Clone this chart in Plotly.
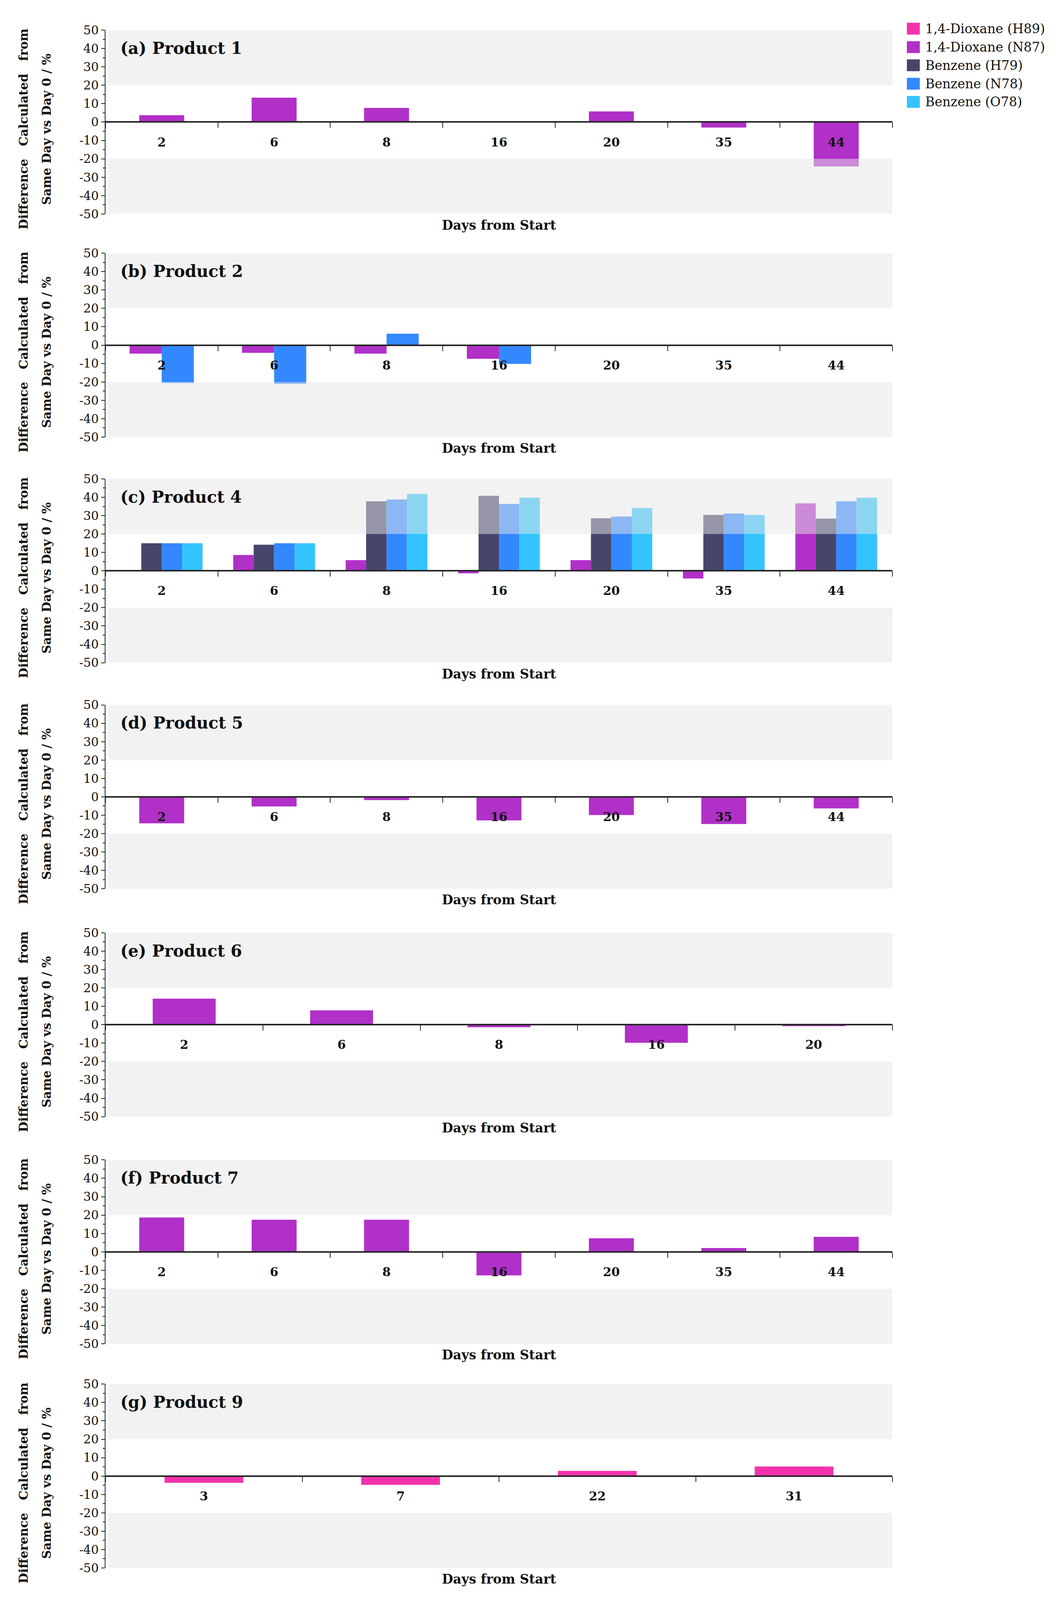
import plotly.graph_objects as go

# ---------------- data ----------------
days_main = ["2", "6", "8", "16", "20", "35", "44"]
days_p6 = ["2", "6", "8", "16", "20"]
days_p9 = ["3", "7", "22", "31"]

series_names = ["1,4-Dioxane (H89)", "1,4-Dioxane (N87)", "Benzene (H79)",
                "Benzene (N78)", "Benzene (O78)"]
series_colors = ["#F433AB", "#B130C8", "#46466B", "#3388FF", "#33C4FF"]

p1_n87 = [3.7, 13.3, 7.7, None, 5.8, -3.0, -24.1]

p2_n87 = [-4.6, -4.2, -4.6, -7.4, None, None, None]
p2_n78 = [-20.6, -21.0, 6.2, -10.2, None, None, None]

p4_n87 = [None, 8.6, 5.8, -1.4, 5.8, -4.2, 36.7]
p4_h79 = [15.0, 14.2, 37.8, 40.8, 28.6, 30.4, 28.4]
p4_n78 = [15.0, 15.0, 38.8, 36.4, 29.5, 31.2, 37.8]
p4_o78 = [15.0, 15.0, 41.8, 39.8, 34.1, 30.4, 39.8]

p5_n87 = [-14.4, -5.2, -1.8, -12.8, -9.9, -14.8, -6.3]

p6_n87 = [14.2, 7.8, -1.4, -9.8, -0.8]

p7_n87 = [18.7, 17.5, 17.5, -12.8, 7.4, 2.1, 8.2]

p9_h89 = [-3.7, -4.8, 2.8, 5.2]

panel_titles = ["(a) Product 1", "(b) Product 2", "(c) Product 4", "(d) Product 5",
                "(e) Product 6", "(f) Product 7", "(g) Product 9"]
panel_days = [days_main, days_main, days_main, days_main, days_p6, days_main, days_p9]
panel_series = [
    [(1, p1_n87)],
    [(1, p2_n87), (3, p2_n78)],
    [(1, p4_n87), (2, p4_h79), (3, p4_n78), (4, p4_o78)],
    [(1, p5_n87)],
    [(1, p6_n87)],
    [(1, p7_n87)],
    [(0, p9_h89)],
]

y_tickvals = [50, 40, 30, 20, 10, 0, -10, -20, -30, -40, -50]
y_ticktext = ["50", "40", "30", "20", "10", "0", "-10", "-20", "-30", "-40", "-50"]

x_title = "Days from Start"
y_title_1 = "Difference\u00a0\u00a0\u00a0Calculated\u00a0\u00a0\u00a0from"
y_title_2 = "Same Day vs Day 0 / %"

# ---------------- layout geometry (reference page is 2718x4287 px) ----------------
W, H = 2718, 4287
x_left_px, x_right_px = 262, 2276
panel_top_px = [54, 657, 1267, 1878, 2494, 3108, 3714]
panel_h_px = 497

FONT = "DejaVu Serif"
INK = "#111111"

fig = go.Figure()
layout = dict(
    autosize=True,
    margin=dict(l=0, r=0, t=0, b=0),
    paper_bgcolor="white", plot_bgcolor="white",
    barmode="overlay", showlegend=False,
    font=dict(family=FONT, color=INK),
)
annotations = []
shapes = []

xdom = [x_left_px / W, x_right_px / W]
gap = 1.5  # gap between groups, in bar widths

for k, (title, cats, series) in enumerate(zip(panel_titles, panel_days, panel_series), start=1):
    top = panel_top_px[k - 1]
    bot = top + panel_h_px
    d1 = 1 - top / H
    d0 = 1 - bot / H
    xa = "x" if k == 1 else f"x{k}"
    ya = "y" if k == 1 else f"y{k}"
    xkey = "xaxis" if k == 1 else f"xaxis{k}"
    ykey = "yaxis" if k == 1 else f"yaxis{k}"

    n = len(series)
    w = 1.0 / (n + gap)
    for i, (si, vals) in enumerate(series):
        fig.add_trace(go.Bar(
            x=cats, y=vals, xaxis=xa, yaxis=ya,
            name=series_names[si],
            marker=dict(color=series_colors[si], line=dict(width=0)),
            width=w, offset=-n * w / 2 + i * w,
            showlegend=False,
        ))

    layout[xkey] = dict(
        domain=xdom, anchor="free", position=(d0 + d1) / 2,
        type="category", range=[-0.5, len(cats) - 0.5],
        showline=True, linecolor="#262626", linewidth=4,
        ticks="outside", tickson="boundaries", ticklen=13, tickwidth=2, tickcolor="#262626",
        tickfont=dict(family=FONT, size=31, color=INK, weight="bold"),
        ticklabelstandoff=23,
        showgrid=False, zeroline=False, fixedrange=True,
    )
    layout[ykey] = dict(
        domain=[d0, d1], anchor=xa, range=[-50, 50],
        tickmode="array", tickvals=y_tickvals, ticktext=y_ticktext,
        ticks="outside", ticklen=9, tickwidth=2, tickcolor="#222",
        minor=dict(tickmode="linear", tick0=0, dtick=5, ticks="outside",
                   ticklen=5, tickwidth=2, tickcolor="#222"),
        tickfont=dict(family=FONT, size=31, color=INK),
        showline=True, linecolor="#222", linewidth=2,
        showgrid=False, zeroline=False, fixedrange=True,
    )

    # shaded bands (|value| > 20), drawn over the bars with transparency
    for y0, y1 in [(20, 50), (-50, -20)]:
        shapes.append(dict(
            type="rect", xref=f"{xa} domain", yref=ya,
            x0=0.0035, x1=1, y0=y0, y1=y1,
            fillcolor="rgba(229,229,229,0.5)", line=dict(width=0), layer="above",
        ))

    # panel title
    annotations.append(dict(
        text=title, xref=f"{xa} domain", yref=f"{ya} domain",
        x=(298 - x_left_px) / (x_right_px - x_left_px), y=1 - 49 / panel_h_px,
        xanchor="left", yanchor="middle", showarrow=False,
        font=dict(family=FONT, size=42, color=INK, weight="bold"),
    ))
    # x-axis title
    annotations.append(dict(
        text=x_title, xref=f"{xa} domain", yref="paper",
        x=0.5, y=1 - (bot + 30) / H, xanchor="center", yanchor="middle",
        showarrow=False, font=dict(family=FONT, size=33, color=INK, weight="bold"),
    ))
    # y-axis title (two lines)
    yc = 1 - (top + panel_h_px / 2 + 19) / H
    for xpx, txt in [(52, y_title_1), (111, y_title_2)]:
        annotations.append(dict(
            text=txt, xref="paper", yref="paper", x=xpx / W, y=yc,
            xanchor="center", yanchor="middle", textangle=-90, showarrow=False,
            font=dict(family=FONT, size=31, color=INK, weight="bold"),
        ))

# manual legend (top right)
leg_centers_px = [50, 100, 149, 199, 248]
for name, color, cy in zip(series_names, series_colors, leg_centers_px):
    shapes.append(dict(
        type="rect", xref="paper", yref="paper",
        x0=2313 / W, x1=2346 / W, y0=1 - (cy + 16) / H, y1=1 - (cy - 16) / H,
        fillcolor=color, line=dict(width=0), layer="above",
    ))
    annotations.append(dict(
        text=name, xref="paper", yref="paper", x=2358 / W, y=1 - cy / H,
        xanchor="left", yanchor="middle", showarrow=False,
        font=dict(family=FONT, size=33, color=INK),
    ))

layout["annotations"] = annotations
layout["shapes"] = shapes
fig.update_layout(**layout)

fig.write_html("out.html", default_width="100vw", default_height="100vh")
